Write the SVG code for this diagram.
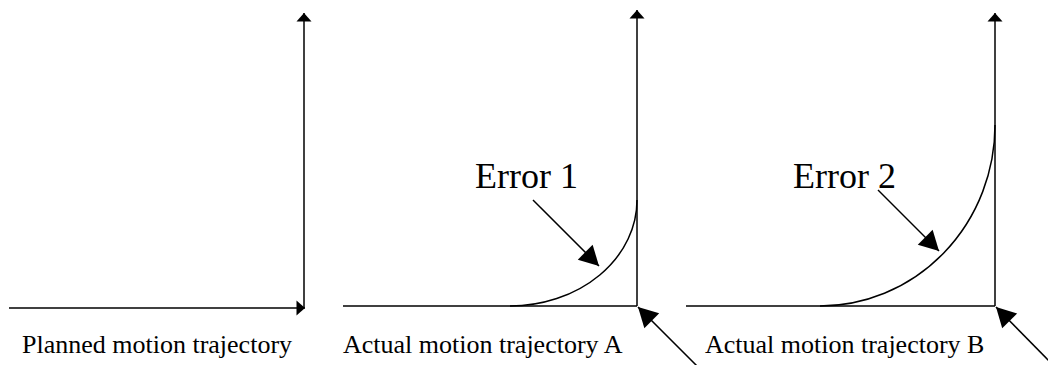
<svg xmlns="http://www.w3.org/2000/svg" width="1048" height="365" viewBox="0 0 1048 365">
  <style>
    .ln { stroke: #000; stroke-width: 1.5; fill: none; }
    .lbl { font-family: "Liberation Serif", "Times New Roman", serif; font-size: 26px; fill: #000; }
    .err { font-family: "Liberation Serif", "Times New Roman", serif; font-size: 36px; fill: #000; }
  </style>
  <defs>
    <marker id="ah" markerUnits="userSpaceOnUse" viewBox="-1 -9 11 18" markerWidth="11" markerHeight="18" refX="8.5" refY="0" orient="auto">
      <path d="M0,-7.5 L8.5,0 L0,7.5 z" fill="#000"/>
    </marker>
    <marker id="big" markerUnits="userSpaceOnUse" viewBox="-1 -12 22 24" markerWidth="22" markerHeight="24" refX="19.5" refY="0" orient="auto">
      <path d="M0,-10.5 L19.5,0 L0,10.5 z" fill="#000"/>
    </marker>
  </defs>
  <rect width="1048" height="365" fill="#fff"/>

  <g id="panel-planned">
    <text class="lbl" x="22" y="353">Planned motion trajectory</text>
  </g>
  <g id="panel-a">
    <path class="ln" d="M510,306 A127,106 0 0 0 637,200"/>
    <text class="err" x="475" y="188">Error 1</text>
    <text class="lbl" x="343" y="353">Actual motion trajectory A</text>
  </g>
  <g id="panel-b">
    <path class="ln" d="M820,306 A175,181 0 0 0 995,125"/>
    <text class="err" x="793" y="188">Error 2</text>
    <text class="lbl" x="705" y="353">Actual motion trajectory B</text>
  </g>

  <g id="connectors">
    <!-- panel 1 axes -->
    <line class="ln" x1="9" y1="308" x2="305" y2="308" marker-end="url(#ah)"/>
    <line class="ln" x1="304" y1="308" x2="304" y2="13" marker-end="url(#ah)"/>
    <!-- panel 2 axes -->
    <line class="ln" x1="343" y1="306" x2="637" y2="306"/>
    <line class="ln" x1="637" y1="306" x2="637" y2="10" marker-end="url(#ah)"/>
    <!-- panel 3 axes -->
    <line class="ln" x1="686" y1="306" x2="995" y2="306"/>
    <line class="ln" x1="995" y1="306" x2="995" y2="13" marker-end="url(#ah)"/>
    <!-- error pointers -->
    <line class="ln" x1="533" y1="200" x2="599" y2="266" marker-end="url(#big)"/>
    <line class="ln" x1="878" y1="190" x2="939" y2="251" marker-end="url(#big)"/>
    <!-- corner pointers -->
    <line class="ln" x1="699" y1="368" x2="638" y2="307" marker-end="url(#big)"/>
    <line class="ln" x1="1056" y1="368" x2="996" y2="307" marker-end="url(#big)"/>
  </g>
</svg>
